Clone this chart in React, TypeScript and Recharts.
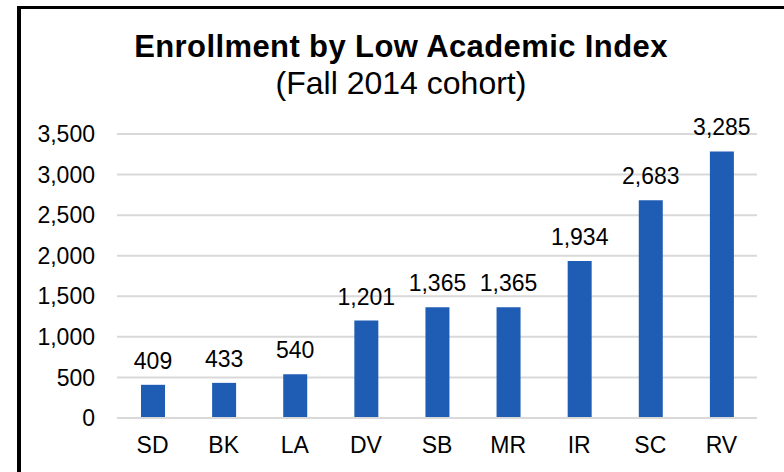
import React from "react";
import { BarChart, Bar, XAxis, YAxis, CartesianGrid, LabelList } from "recharts";

const categories = ["SD", "BK", "LA", "DV", "SB", "MR", "IR", "SC", "RV"];
const enrollment = [409, 433, 540, 1201, 1365, 1365, 1934, 2683, 3285];
const yTicks = [0, 500, 1000, 1500, 2000, 2500, 3000, 3500];
const titleText = "Enrollment by Low Academic Index";
const subtitleText = "(Fall 2014 cohort)";

const data = categories.map((c, i) => ({ name: c, value: enrollment[i] }));

const FONT = "'Liberation Sans', Arial, sans-serif";
const fmt = (v: number) => v.toLocaleString("en-US");

export default function App() {
  return (
    <div
      style={{
        position: "absolute",
        left: 0,
        top: 0,
        width: 784,
        height: 472,
        overflow: "hidden",
        background: "#fff",
        fontFamily: FONT,
      }}
    >
      <div
        style={{
          position: "absolute",
          left: 17,
          top: 6,
          width: 800,
          height: 500,
          borderLeft: "4px solid #000",
          borderTop: "3px solid #000",
        }}
      />
      <svg
        width={784}
        height={110}
        style={{ position: "absolute", left: 0, top: 0 }}
      >
        <text
          x={401}
          y={57}
          textAnchor="middle"
          fontFamily={FONT}
          fontWeight="bold"
          fontSize={31}
          letterSpacing={0.4}
          fill="#000"
        >
          {titleText}
        </text>
        <text
          x={401}
          y={94}
          textAnchor="middle"
          fontFamily={FONT}
          fontSize={32}
          fill="#000"
        >
          {subtitleText}
        </text>
      </svg>
      <div style={{ position: "absolute", left: 0, top: 0 }}>
        <BarChart
          width={784}
          height={472}
          data={data}
          margin={{ top: 134, right: 27, bottom: 0, left: 0 }}
        >
          <CartesianGrid
            vertical={false}
            stroke="#d9d9d9"
            strokeWidth={2}
          />
          <XAxis
            dataKey="name"
            height={54}
            axisLine={{ stroke: "#d9d9d9", strokeWidth: 2 }}
            tickLine={false}
            tickMargin={13}
            tick={{ fill: "#000", fontSize: 23, fontFamily: FONT }}
            interval={0}
          />
          <YAxis
            width={117}
            domain={[0, 3500]}
            ticks={yTicks}
            axisLine={false}
            tickLine={false}
            tickMargin={16}
            tickFormatter={fmt}
            tick={{ fill: "#000", fontSize: 23, fontFamily: FONT }}
          />
          <Bar
            dataKey="value"
            fill="#1f5db5"
            barSize={24}
            isAnimationActive={false}
          >
            <LabelList
              dataKey="value"
              position="top"
              offset={16}
              formatter={(v: any) => fmt(Number(v))}
              style={{ fill: "#000", fontSize: 23, fontFamily: FONT }}
            />
          </Bar>
        </BarChart>
      </div>
    </div>
  );
}
